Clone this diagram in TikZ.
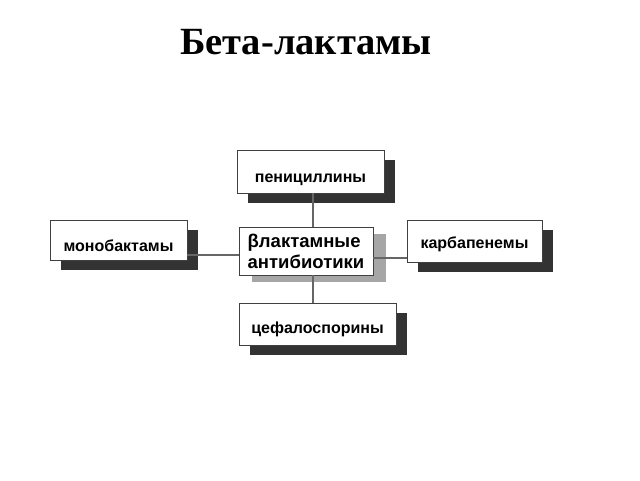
\documentclass[tikz,border=0pt]{standalone}
\usepackage{fontspec}
\setmainfont{Liberation Serif}
\newfontfamily\boxfont{Liberation Sans}
\usetikzlibrary{shadows}
\begin{document}
\begin{tikzpicture}[x=1pt,y=-1pt,
  box/.style={draw=black!75, line width=0.9pt, fill=white, font=\boxfont\bfseries\fontsize{16}{20}\selectfont, inner sep=0pt},
  darkshadow/.style={drop shadow={shadow xshift=11pt, shadow yshift=-10pt, fill=black!80, opacity=1}},
  lightshadow/.style={drop shadow={shadow xshift=13pt, shadow yshift=-7pt, fill=black!35, opacity=1}},
  conn/.style={draw=black!60, line width=2pt}]
\useasboundingbox (0,0) rectangle (640,480);
\node[font=\bfseries\fontsize{38.5}{44}\selectfont] (title) at (306,42) {Бета-лактамы};
\coordinate (vx) at (313,0);
\coordinate (hl) at (0,255);
\coordinate (hr) at (0,258);
\node[box, darkshadow, minimum width=147pt, minimum height=43pt, text height=22pt, text depth=0pt] (top) at (310.5,171.5) {пенициллины};
\node[box, darkshadow, minimum width=137pt, minimum height=40pt, text height=23pt, text depth=0pt] (left) at (118.5,240) {монобактамы};
\node[box, darkshadow, minimum width=135pt, minimum height=42pt, text height=14pt, text depth=0pt] (right) at (474.5,241) {карбапенемы};
\node[box, darkshadow, minimum width=157pt, minimum height=42pt, text height=18pt, text depth=0pt] (bot) at (317.5,324) {цефалоспорины};
\node[box, lightshadow, minimum width=134pt, minimum height=48pt, align=left, text height=36pt, text depth=2pt, font=\boxfont\bfseries\fontsize{18.5}{21}\selectfont] (mid) at (306,251) {βлактамные\\антибиотики};
\draw[conn] (top.south -| vx) -- (mid.north -| vx);
\draw[conn] (mid.south -| vx) -- (bot.north -| vx);
\draw[conn] (left.east |- hl) -- (mid.west |- hl);
\draw[conn] (mid.east |- hr) -- (right.west |- hr);
\end{tikzpicture}
\end{document}
